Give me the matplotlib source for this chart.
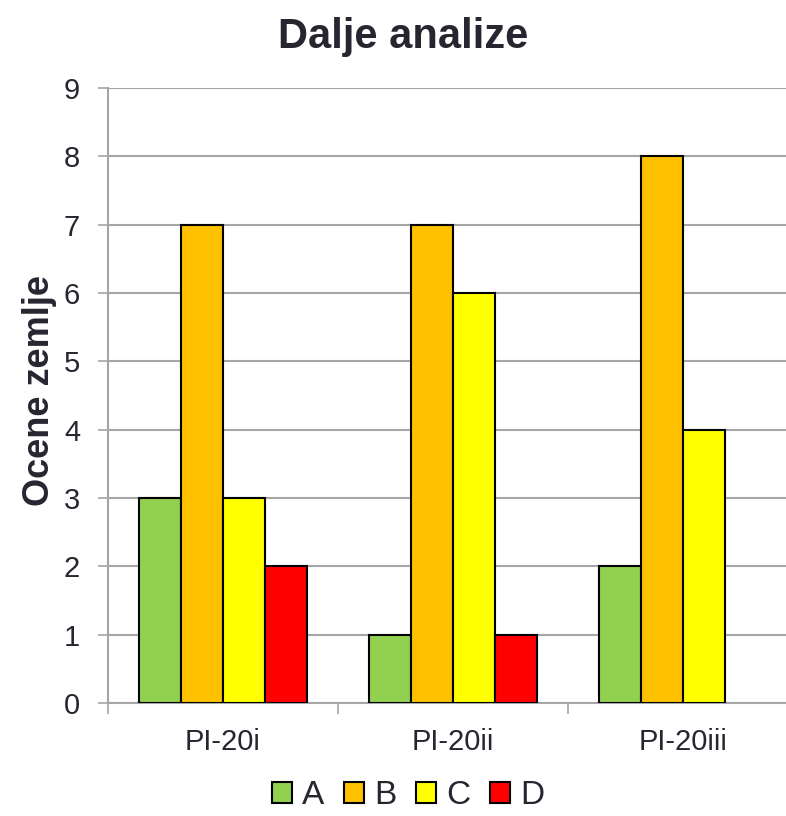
import matplotlib
matplotlib.use("Agg")
import matplotlib.pyplot as plt
import numpy as np

plt.rcParams['font.family'] = ['Liberation Sans', 'DejaVu Sans']
TXT = "#262630"
plt.rcParams['text.color'] = TXT
plt.rcParams['xtick.labelcolor'] = TXT
plt.rcParams['ytick.labelcolor'] = TXT

categories = ["PI-20i", "PI-20ii", "PI-20iii"]
series_names = ["A", "B", "C", "D"]
values_A = [3, 1, 2]
values_B = [7, 7, 8]
values_C = [3, 6, 4]
values_D = [2, 1, 0]
colors = ["#92D050", "#FFC000", "#FFFF00", "#FF0000"]

fig = plt.figure(figsize=(7.86, 8.16), dpi=100)
ax = fig.add_axes([108/786, 1 - 703/816, 690/786, (703-88)/816])

x = np.arange(len(categories))
w = 0.1826
all_vals = [values_A, values_B, values_C, values_D]
for i, (name, vals, c) in enumerate(zip(series_names, all_vals, colors)):
    offs = (i - 1.5) * w
    bars = ax.bar(x + offs, vals, width=w, color=c, edgecolor="black", linewidth=1.5,
                  label=name, zorder=3)
    for b, v in zip(bars, vals):
        if v == 0:
            b.set_visible(False)

ax.set_xlim(-0.5, 2.5)
ax.set_ylim(0, 9)
ax.set_yticks(range(0, 10))
ax.yaxis.grid(True, color="#A6A6A6", linewidth=1.5, zorder=0)
ax.set_axisbelow(True)

ax.set_xticks(x)
ax.set_xticklabels(categories)
ax.set_xticks([-0.5, 0.5, 1.5, 2.5], minor=True)
ax.tick_params(axis="x", which="major", length=0, labelsize=21, pad=18)
ax.tick_params(axis="x", which="minor", length=8, width=1.2, color="#A6A6A6", direction="out")
ax.tick_params(axis="y", length=7, width=1.2, color="#A6A6A6", labelsize=21, pad=13)

for s in ["top", "right"]:
    ax.spines[s].set_visible(False)
for s in ["left", "bottom"]:
    ax.spines[s].set_color("#A6A6A6")
    ax.spines[s].set_linewidth(1.5)

fig.text(40/786, 1 - 390/816, "Ocene zemlje", rotation=90, ha="center", va="center",
         fontsize=26, fontweight="bold")
fig.text(403/786, 1 - 37/816, "Dalje analize", ha="center", va="center",
         fontsize=30, fontweight="bold")

leg = fig.legend(loc="center", bbox_to_anchor=(408/786, 1 - 796/816), ncol=4,
                 frameon=False, fontsize=24, handlelength=0.6, handleheight=0.6,
                 handletextpad=0.3, columnspacing=0.6, borderpad=0.1)

fig.savefig("out.png", dpi=100)
